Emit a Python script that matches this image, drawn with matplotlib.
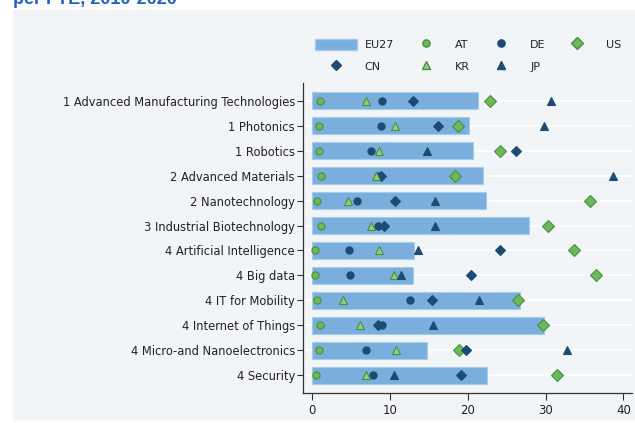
import matplotlib
matplotlib.use("Agg")
import matplotlib.pyplot as plt
from matplotlib.patches import Rectangle, Patch
from matplotlib.lines import Line2D

categories = [
    "1 Advanced Manufacturing Technologies",
    "1 Photonics",
    "1 Robotics",
    "2 Advanced Materials",
    "2 Nanotechnology",
    "3 Industrial Biotechnology",
    "4 Artificial Intelligence",
    "4 Big data",
    "4 IT for Mobility",
    "4 Internet of Things",
    "4 Micro-and Nanoelectronics",
    "4 Security",
]
eu27 = [21.3, 20.1, 20.6, 21.9, 22.3, 27.8, 13.1, 12.9, 26.7, 29.8, 14.8, 22.4]
at = [1.0, 0.9, 0.9, 1.1, 0.6, 1.1, 0.3, 0.3, 0.6, 1.0, 0.8, 0.5]
de = [8.9, 8.8, 7.6, 8.5, 5.7, 8.5, 4.7, 4.8, 12.5, 9.0, 6.9, 7.8]
us = [22.9, 18.7, 24.1, 18.4, 35.7, 30.3, 33.6, 36.5, 26.5, 29.6, 18.8, 31.5]
cn = [13.0, 16.2, 26.2, 8.8, 10.6, 9.2, 24.1, 20.4, 15.4, 8.5, 19.7, 19.1]
kr = [6.9, 10.6, 8.6, 8.2, 4.6, 7.5, 8.6, 10.5, 3.9, 6.1, 10.8, 6.9]
jp = [30.7, 29.8, 14.7, 38.6, 15.8, 15.8, 13.6, 11.4, 21.4, 15.5, 32.7, 10.5]
title_text = "per FTE, 2010-2020"

plt.rcParams["font.family"] = ["DejaVu Sans"]

panel = "#f2f5f7"
bar_c = "#7aafdd"
green = "#6cb95c"
green_e = "#4a8f3f"
navy = "#1d4b74"

fig = plt.figure(figsize=(6.35, 4.23), dpi=100)
fig.patch.set_facecolor("white")
bg = Rectangle((13 / 635, 1 - 420 / 423), 1 - 13 / 635, 410 / 423,
               transform=fig.transFigure, facecolor=panel,
               edgecolor="none", zorder=-5)
fig.add_artist(bg)
fig.text(13 / 635, 1 - 3.5 / 423, title_text, color="#2060c0", fontsize=13,
         fontweight="bold", family=["Liberation Sans", "DejaVu Sans"],
         ha="left", va="baseline")

ax = fig.add_axes([303.3 / 635, 1 - 393.3 / 423, (632 - 303.3) / 635, (393.3 - 83) / 423])
ax.set_zorder(1)
ax.set_facecolor(panel)
y = list(range(len(categories)))

ax.barh(y, eu27, height=0.68, color=bar_c, edgecolor="#a9cbea", linewidth=0.8,
        zorder=2, label="EU27")
ax.plot(at, y, "o", ms=5.2, mfc=green, mec=green_e, mew=0.8, ls="none", zorder=3, label="AT")
ax.plot(de, y, "o", ms=5.2, mfc=navy, mec=navy, mew=0.8, ls="none", zorder=3, label="DE")
ax.plot(us, y, "D", ms=6.0, mfc=green, mec=green_e, mew=0.8, ls="none", zorder=3, label="US")
ax.plot(cn, y, "D", ms=5.2, mfc=navy, mec=navy, mew=0.8, ls="none", zorder=3, label="CN")
ax.plot(kr, y, "^", ms=6.0, mfc="#8fcf7e", mec=green_e, mew=0.8, ls="none", zorder=3, label="KR")
ax.plot(jp, y, "^", ms=6.0, mfc=navy, mec=navy, mew=0.8, ls="none", zorder=3, label="JP")

ax.set_xlim(-1.16, 41.1)
ax.set_ylim(11.73, -0.72)
ax.set_yticks(y)
ax.set_yticklabels(categories)
ax.set_xticks([0, 10, 20, 30, 40])
ax.tick_params(axis="y", length=4, width=0.8, color="#333333", labelsize=8.3,
               labelcolor="#222222", pad=2)
ax.tick_params(axis="x", length=5, width=0.8, color="#333333", labelsize=8.5,
               labelcolor="#222222", pad=3)
ax.grid(axis="y", color="white", linewidth=1.2, zorder=1)
ax.set_axisbelow(True)
for s in ["top", "right"]:
    ax.spines[s].set_visible(False)
for s in ["left", "bottom"]:
    ax.spines[s].set_color("#333333")
    ax.spines[s].set_linewidth(0.9)

handles = [
    Patch(facecolor=bar_c, edgecolor="#a9cbea"),
    Line2D([], [], marker="o", ls="none", ms=5.2, mfc=green, mec=green_e),
    Line2D([], [], marker="o", ls="none", ms=5.2, mfc=navy, mec=navy),
    Line2D([], [], marker="D", ls="none", ms=6.0, mfc=green, mec=green_e),
    Line2D([], [], marker="D", ls="none", ms=5.2, mfc=navy, mec=navy),
    Line2D([], [], marker="^", ls="none", ms=6.0, mfc="#8fcf7e", mec=green_e),
    Line2D([], [], marker="^", ls="none", ms=6.0, mfc=navy, mec=navy),
]
labels = ["EU27", "AT", "DE", "US", "CN", "KR", "JP"]
# matplotlib fills legend columns first; reorder so rows read as in the reference
order = [0, 4, 1, 5, 2, 6, 3]
leg = fig.legend([handles[i] for i in order], [labels[i] for i in order],
                 ncol=4, loc="upper left", bbox_to_anchor=(307 / 635, 1 - 31 / 423),
                 frameon=False, fontsize=8, handlelength=3.8, handleheight=1.2,
                 handletextpad=0.7, columnspacing=0.95, labelspacing=0.9,
                 borderpad=0.2)
for t in leg.get_texts():
    t.set_color("#222222")

fig.savefig("out.png", dpi=100, facecolor="white")
